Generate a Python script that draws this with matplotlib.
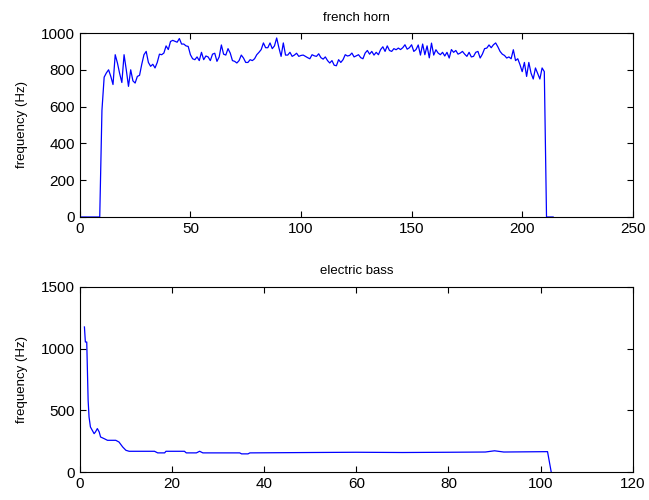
import matplotlib
matplotlib.use("Agg")
import matplotlib.pyplot as plt
import numpy as np

plt.rcParams['font.family'] = ['Liberation Sans', 'DejaVu Sans']

# french horn: pitch estimate per frame (frame index 0..214)
horn_hz = [0, 0, 0, 0, 0, 0, 0, 0, 0, 0,
           580, 760, 783, 800, 764, 720, 882, 837, 780, 731,
           882, 800, 710, 800, 740, 728, 764, 770, 830, 882,
           900, 840, 819, 830, 810, 840, 885, 882, 891, 930,
           910, 954, 960, 955, 950, 970, 940, 940, 930, 927,
           882, 860, 855, 870, 850, 895, 855, 875, 870, 850,
           885, 890, 846, 870, 935, 885, 880, 915, 891, 850,
           846, 837, 850, 880, 864, 840, 840, 855, 850, 860,
           882, 895, 910, 946, 920, 920, 946, 915, 930, 973,
           920, 873, 946, 880, 880, 895, 873, 880, 890, 873,
           878, 880, 873, 866, 860, 882, 876, 873, 887, 866,
           858, 870, 850, 837, 850, 825, 822, 855, 840, 855,
           882, 875, 878, 891, 870, 876, 882, 866, 860, 891,
           905, 885, 900, 880, 895, 882, 910, 925, 900, 930,
           905, 900, 915, 909, 918, 910, 920, 936, 912, 920,
           936, 900, 910, 935, 880, 940, 882, 930, 865, 945,
           880, 909, 891, 882, 895, 875, 895, 864, 910, 895,
           905, 885, 891, 900, 885, 873, 895, 870, 873, 895,
           900, 864, 885, 915, 918, 935, 920, 936, 946, 925,
           900, 885, 878, 864, 870, 860, 909, 850, 860, 828,
           790, 840, 764, 840, 782, 750, 810, 780, 750, 810,
           790, 0, 0, 0, 0]
horn_frame = np.arange(len(horn_hz))

# electric bass
bass_frame = [1, 1.2, 1.5, 1.8, 2, 2.3, 2.7, 3.1, 3.4, 3.8, 4.2, 4.5, 5.3, 6, 7, 7.8,
              8.5, 9.3, 10, 10.7, 16.2, 16.9, 18.4, 18.7, 22.7, 23.1, 25.3, 26, 26.7,
              34.7, 35.1, 36.5, 36.9, 50, 60, 70, 80, 88, 90, 92, 101.5, 102.3]
bass_hz = [1176, 1054, 1054, 582, 446, 365, 338, 311, 325, 352, 325, 284, 270, 257, 257, 257,
           243, 203, 176, 168, 168, 155, 155, 168, 168, 155, 155, 168, 155,
           155, 147, 147, 155, 158, 160, 158, 160, 162, 172, 162, 165, 0]

fig = plt.figure(figsize=(6.49, 5.0), dpi=100)
ax1 = fig.add_axes([0.123, 0.566, 0.852, 0.368])
ax2 = fig.add_axes([0.123, 0.056, 0.852, 0.370])

ax1.plot(horn_frame, horn_hz, color='#0000ff', lw=0.9)
ax1.set_xlim(0, 250)
ax1.set_ylim(0, 1000)
ax1.set_xticks([0, 50, 100, 150, 200, 250])
ax1.set_yticks([0, 200, 400, 600, 800, 1000])
ax1.set_title('french horn', fontsize=9.5, pad=9)
ax1.set_ylabel('frequency (Hz)', fontsize=9.5, labelpad=9)

ax2.plot(bass_frame, bass_hz, color='#0000ff', lw=0.9)
ax2.set_xlim(0, 120)
ax2.set_ylim(0, 1500)
ax2.set_xticks([0, 20, 40, 60, 80, 100, 120])
ax2.set_yticks([0, 500, 1000, 1500])
ax2.set_title('electric bass', fontsize=9.5, pad=9)
ax2.set_ylabel('frequency (Hz)', fontsize=9.5, labelpad=9)

for ax in (ax1, ax2):
    ax.tick_params(direction='in', top=True, right=True, labelsize=11, length=4)
    for s in ax.spines.values():
        s.set_linewidth(0.8)

fig.savefig('out.png', dpi=100)
